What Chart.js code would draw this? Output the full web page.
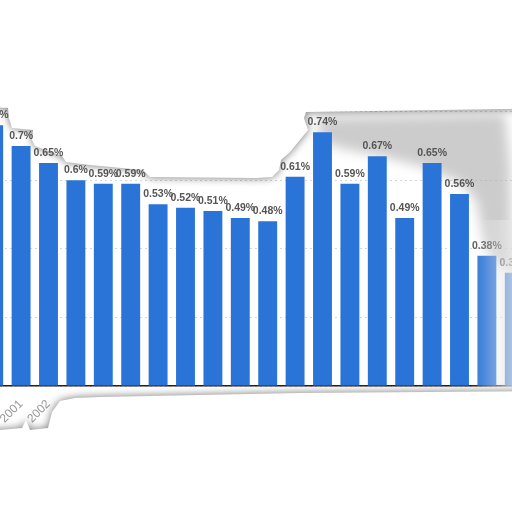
<!DOCTYPE html>
<html>
<head>
<meta charset="utf-8">
<script src="https://cdn.jsdelivr.net/npm/chart.js@4.4.1/dist/chart.umd.min.js"></script>
<style>
  html, body { margin: 0; padding: 0; background: #fff; }
  #wrap { position: relative; width: 512px; height: 512px; overflow: hidden; }
  #barCanvas { position: absolute; left: -20px; top: 0; }
</style>
</head>
<body>
<div id="wrap"><canvas id="barCanvas" width="548" height="512"></canvas></div>
<script>
const years = ["2000","2001","2002","2003","2004","2005","2006","2007","2008","2009",
               "2010","2011","2012","2013","2014","2015","2016","2017","2018","2019"];
const rates = [0.76, 0.7, 0.65, 0.6, 0.59, 0.59, 0.53, 0.52, 0.51, 0.49,
               0.48, 0.61, 0.74, 0.59, 0.67, 0.49, 0.65, 0.56, 0.38, 0.33];
const yTicks = [0, 0.2, 0.4, 0.6, 0.8, 1.0];

const SHIFT = 20; // canvas sits 20px left of the page

// torn-paper look of the reference: white masks with a grey edge
function poly(ctx, pts) {
    ctx.beginPath();
    pts.forEach(([x, y], i) => i ? ctx.lineTo(x + SHIFT, y) : ctx.moveTo(x + SHIFT, y));
    ctx.closePath();
}

const topMask = [[-30,-10],[560,-10],[560,108],[506,109],[306,112],[304,118],[308,130],
    [290,152],[281,160],[279,170],[272,177],[256,178],[150,177],[143,170],[90,165],
    [66,162],[62,156],[35,146],[32,140],[33,130],[12,128],[9,118],[8,108],[-30,106]];
const bottomMask = [[-30,560],[560,560],[560,391],[300,393],[200,395],[100,397],[75,398],
    [60,401],[52,412],[48,428],[30,430],[26,420],[22,428],[0,430],[-30,430]];
const greyPatch = [[318,118],[505,114],[510,165],[512,270],[495,262],[484,240],[476,200],
    [460,182],[420,166],[380,156],[340,148],[320,140]];

const maskPlugin = {
    id: "masks",
    beforeDatasetsDraw(chart) {
        const ctx = chart.ctx;
        ctx.save();
        ctx.filter = "blur(6px)";
        ctx.fillStyle = "rgba(170,170,170,0.6)";
        poly(ctx, greyPatch);
        ctx.fill();
        ctx.filter = "none";
        ctx.shadowColor = "rgba(0,0,0,0.55)";
        ctx.shadowBlur = 8;
        ctx.fillStyle = "#fff";
        poly(ctx, topMask);
        ctx.fill();
        poly(ctx, bottomMask);
        ctx.fill();
        ctx.restore();
    },
    afterDraw(chart) {
        const ctx = chart.ctx;
        ctx.save();
        const g = ctx.createLinearGradient(470 + SHIFT, 0, 512 + SHIFT, 0);
        g.addColorStop(0, "rgba(240,240,240,0)");
        g.addColorStop(0.3, "rgba(236,236,236,0.15)");
        g.addColorStop(0.75, "rgba(232,232,232,0.5)");
        g.addColorStop(1, "rgba(228,228,228,0.7)");
        ctx.fillStyle = g;
        ctx.fillRect(470 + SHIFT, 220, 42, 168);
        ctx.restore();
    }
};

const valueLabels = {
    id: "valueLabels",
    afterDatasetsDraw(chart) {
        const ctx = chart.ctx;
        const meta = chart.getDatasetMeta(0);
        ctx.save();
        ctx.font = "bold 10.5px 'Liberation Sans', Arial, sans-serif";
        ctx.fillStyle = "#555";
        ctx.textAlign = "center";
        ctx.textBaseline = "alphabetic";
        meta.data.forEach((bar, i) => {
            ctx.fillText(rates[i] + "%", bar.x, bar.y - 7);
        });
        ctx.restore();
    }
};

const barCanvas = document.querySelector('#barCanvas');

const barChart = new Chart(barCanvas, {
    type: "bar",
    data: {
        labels: years,
        datasets: [{
            data: rates,
            backgroundColor: "#2a74d8",
            barPercentage: 0.69,
            categoryPercentage: 1
        }]
    },
    options: {
        responsive: false,
        animation: false,
        devicePixelRatio: 1,
        layout: { padding: { top: 43, left: 0, right: 0, bottom: 0 } },
        plugins: { legend: { display: false }, tooltip: { enabled: false } },
        scales: {
            y: {
                min: 0,
                max: 1,
                afterFit: (scale) => { scale.width = 0; },
                afterBuildTicks: (scale) => { scale.ticks = yTicks.map(v => ({ value: v })); },
                ticks: { display: false },
                grid: { color: "#d6d6d6", drawTicks: false },
                border: { display: false, dash: [2, 3] }
            },
            x: {
                afterFit: (scale) => {
                    scale.height = 126;
                    scale.paddingLeft = 0;
                    scale.paddingRight = 0;
                },
                grid: { display: false },
                border: { color: "#222", width: 1.5 },
                ticks: {
                    autoSkip: false,
                    minRotation: 45,
                    maxRotation: 45,
                    color: "#999",
                    font: { size: 12, family: "'Liberation Sans', Arial, sans-serif" }
                }
            }
        }
    },
    plugins: [maskPlugin, valueLabels]
});
</script>
</body>
</html>
